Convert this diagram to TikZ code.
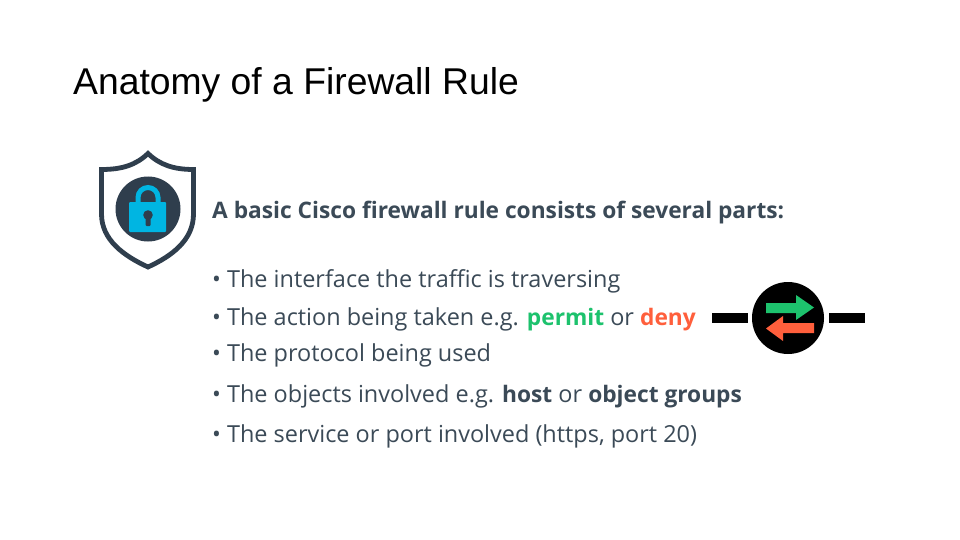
\documentclass[tikz,border=0pt]{standalone}
\usepackage{fontspec}
\setmainfont[BoldFeatures={Scale=0.969}]{Open Sans}
\newfontfamily\titlefont{Liberation Sans}
\definecolor{slate}{HTML}{3B4A57}
\definecolor{darkslate}{HTML}{2F3E4D}
\definecolor{lockblue}{HTML}{00B5E2}
\definecolor{pgreen}{HTML}{1DC26D}
\definecolor{dred}{HTML}{FF5F3C}
\tikzset{
  body/.style={anchor=base west,inner sep=0pt,text=slate,font=\fontsize{23.45}{27}\selectfont},
  title/.style={anchor=base west,inner sep=0pt,text=black,font=\titlefont\fontsize{37.3}{42}\selectfont},
}
\begin{document}
\begin{tikzpicture}[x=1pt,y=-1pt]
\useasboundingbox (0,0) rectangle (960,540);
\fill[white] (0,0) rectangle (960,540);
\node[title] (t) at (73,95) {Anatomy of a Firewall Rule};
% shield
\draw[darkslate,line width=4.8pt,line join=miter,fill=white]
  (148,153.5) .. controls (136,165) and (122,169.5) .. (101.5,169.5)
  -- (101.5,214) .. controls (101.5,240) and (124,256) .. (148,267)
  .. controls (172,256) and (193.5,240) .. (193.5,214)
  -- (193.5,169.5) .. controls (174,169.5) and (160,165) .. (148,153.5) -- cycle;
\fill[darkslate] (148,209) circle (32.5);
\draw[lockblue,line width=5pt] (138,204) -- (138,197.5) arc[start angle=180,end angle=360,radius=10] -- (158,204);
\fill[lockblue,rounded corners=1pt] (129,202) rectangle (166,232);
\fill[darkslate] (148,215) circle (4.8);
\fill[darkslate,rounded corners=1pt] (145.5,215) rectangle (150.5,226);
% text
\node[body] (h) at (212,218) {\textbf{A basic Cisco firewall rule consists of several parts:}};
\node[body] (a) at (212,287) {• The interface the traffic is traversing};
\node[body] (b) at (212,325) {• The action being taken e.g. \textcolor{pgreen}{\textbf{permit}} or \textcolor{dred}{\textbf{deny}}};
\node[body] (c) at (212,361) {• The protocol being used};
\node[body] (d) at (212,402) {• The objects involved e.g. \textbf{host} or \textbf{object groups}};
\node[body] (e) at (212,442) {• The service or port involved (https, port 20)};
% traffic icon
\fill[black] (712,313) rectangle (748,323);
\fill[black] (829,313) rectangle (865,323);
\fill[black] (788,318) circle (36);
\fill[pgreen] (766,303) -- (796,303) -- (796,295) -- (814,307.5) -- (796,320) -- (796,313) -- (766,313) -- cycle;
\fill[dred] (814,323) -- (783,323) -- (783,316) -- (766,328.5) -- (783,341) -- (783,333) -- (814,333) -- cycle;
\end{tikzpicture}
\end{document}
